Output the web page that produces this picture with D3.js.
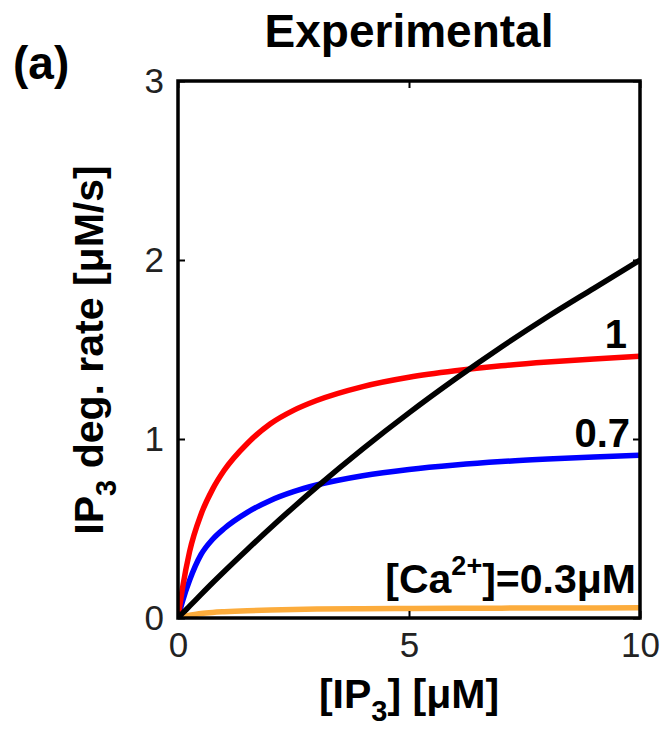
<!DOCTYPE html>
<html>
<head>
<meta charset="utf-8">
<script src="https://cdn.jsdelivr.net/npm/d3@7"></script>
<style>
  html, body { margin: 0; padding: 0; background: #fff; }
  svg { display: block; }
  text { font-family: "Liberation Sans", Arial, Helvetica, sans-serif; }
</style>
</head>
<body>
<svg id="chart" width="665" height="732"></svg>
<script>
// [IP3] sample points (µM)
const ip3 = [0, 0.1, 0.25, 0.5, 0.75, 1, 1.5, 2, 2.5, 3, 4, 5, 6, 7, 8, 9, 10];

// IP3 degradation rate (µM/s) for each [Ca2+] level
const rateCa1   = [0, 0.17, 0.37, 0.58, 0.72, 0.825, 0.975, 1.085, 1.16, 1.215, 1.293, 1.345, 1.381, 1.409, 1.43, 1.447, 1.462];
const rateCa07  = [0, 0.095, 0.21, 0.355, 0.44, 0.5, 0.59, 0.657, 0.706, 0.743, 0.795, 0.83, 0.855, 0.874, 0.888, 0.9, 0.91];
const rateCa03  = [0, 0.008, 0.015, 0.025, 0.031, 0.035, 0.041, 0.045, 0.048, 0.05, 0.052, 0.053, 0.054, 0.055, 0.056, 0.056, 0.057];
const rateLinear = [0, 0.027, 0.066, 0.132, 0.197, 0.26, 0.383, 0.503, 0.619, 0.731, 0.945, 1.146, 1.335, 1.514, 1.683, 1.842, 2.0];

const xTicks = [0, 5, 10];
const yTicks = [0, 1, 2, 3];

const svg = d3.select("#chart");
const plotL = 178, plotR = 640, plotT = 81, plotB = 618;

const x = d3.scaleLinear().domain([0, 10]).range([plotL, plotR]);
const y = d3.scaleLinear().domain([0, 3]).range([plotB, plotT]);

const line = d3.line()
  .x((d, i) => x(ip3[i]))
  .y(d => y(d))
  .curve(d3.curveMonotoneX);

const series = [
  { values: rateCa03, color: "#fcac3c" },
  { values: rateCa07, color: "#0000ff" },
  { values: rateCa1, color: "#ff0000" },
  { values: rateLinear, color: "#000000" }
];

svg.append("clipPath").attr("id", "plotclip")
  .append("rect").attr("x", plotL).attr("y", plotT)
  .attr("width", plotR - plotL).attr("height", plotB - plotT);

svg.append("g").attr("clip-path", "url(#plotclip)")
  .selectAll("path").data(series).join("path")
  .attr("d", s => line(s.values))
  .attr("fill", "none")
  .attr("stroke", s => s.color)
  .attr("stroke-width", 5.5)
  .attr("stroke-linejoin", "round");

// Inward ticks on all four sides of the box
const tickLen = 7;
const axisBottom = d3.axisBottom(x).tickValues(xTicks).tickSizeInner(-tickLen).tickSizeOuter(0).tickFormat(d3.format("d")).tickPadding(14);
const axisTop = d3.axisTop(x).tickValues(xTicks).tickSizeInner(-tickLen).tickSizeOuter(0).tickFormat("");
const axisLeft = d3.axisLeft(y).tickValues(yTicks).tickSizeInner(-tickLen).tickSizeOuter(0).tickFormat(d3.format("d")).tickPadding(14);
const axisRight = d3.axisRight(y).tickValues(yTicks).tickSizeInner(-tickLen).tickSizeOuter(0).tickFormat("");

function styleAxis(g) {
  g.select(".domain").remove();
  g.selectAll(".tick line").attr("stroke", "#000").attr("stroke-width", 2);
  g.selectAll(".tick text")
    .attr("fill", "#222")
    .style("font-size", "35px")
    .style("font-family", "'Liberation Sans', Arial, sans-serif");
}

svg.append("g").attr("transform", `translate(0,${plotB})`).call(axisBottom).call(styleAxis);
svg.append("g").attr("transform", `translate(0,${plotT})`).call(axisTop).call(styleAxis);
svg.append("g").attr("transform", `translate(${plotL},0)`).call(axisLeft).call(styleAxis);
svg.append("g").attr("transform", `translate(${plotR},0)`).call(axisRight).call(styleAxis);

// Box frame
svg.append("rect")
  .attr("x", plotL).attr("y", plotT)
  .attr("width", plotR - plotL).attr("height", plotB - plotT)
  .attr("fill", "none").attr("stroke", "#000").attr("stroke-width", 3.5);

// Title and panel letter
svg.append("text").attr("x", 409).attr("y", 47)
  .attr("text-anchor", "middle")
  .style("font-size", "46px").style("font-weight", "bold")
  .text("Experimental");

svg.append("text").attr("x", 13).attr("y", 79)
  .style("font-size", "46px").style("font-weight", "bold")
  .text("(a)");

// x-axis label: [IP3] [µM]
const xl = svg.append("text").attr("x", 409).attr("y", 708)
  .attr("text-anchor", "middle")
  .style("font-size", "41px").style("font-weight", "bold");
xl.append("tspan").text("[IP");
xl.append("tspan").attr("dy", 13).style("font-size", "29px").text("3");
xl.append("tspan").attr("dy", -13).text("] [\u03bcM]");

// y-axis label: IP3 deg. rate [µM/s]
const yl = svg.append("text")
  .attr("transform", `translate(103,350) rotate(-90)`)
  .attr("text-anchor", "middle")
  .style("font-size", "41px").style("font-weight", "bold");
yl.append("tspan").text("IP");
yl.append("tspan").attr("dy", 13).style("font-size", "29px").text("3");
yl.append("tspan").attr("dy", -13).text(" deg. rate [\u03bcM/s]");

// Curve annotations
svg.append("text").attr("x", 627).attr("y", 348)
  .attr("text-anchor", "end")
  .style("font-size", "40px").style("font-weight", "bold")
  .text("1");

svg.append("text").attr("x", 630).attr("y", 447)
  .attr("text-anchor", "end")
  .style("font-size", "40px").style("font-weight", "bold")
  .text("0.7");

const ca = svg.append("text").attr("x", 636).attr("y", 593)
  .attr("text-anchor", "end")
  .style("font-size", "41px").style("font-weight", "bold");
ca.append("tspan").text("[Ca");
ca.append("tspan").attr("dy", -18).style("font-size", "27px").text("2+");
ca.append("tspan").attr("dy", 18).text("]=0.3\u03bcM");
</script>
</body>
</html>
